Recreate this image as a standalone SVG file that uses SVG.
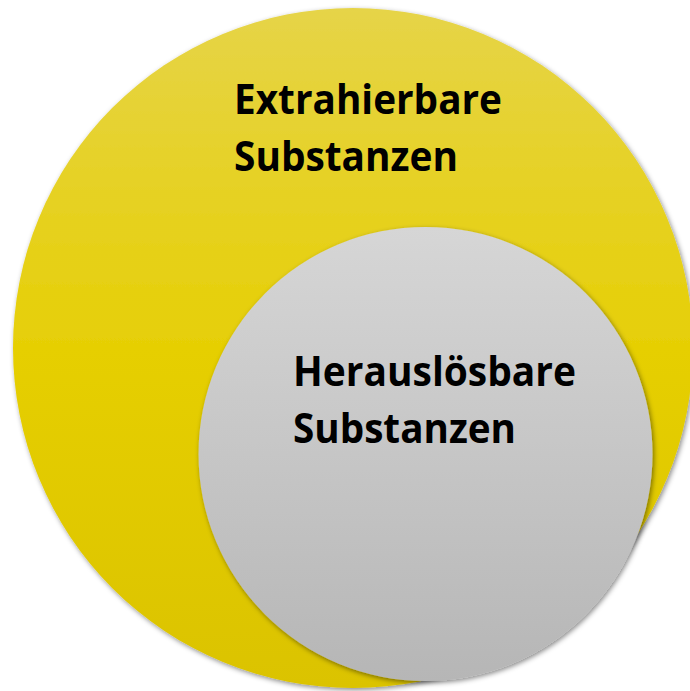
<svg xmlns="http://www.w3.org/2000/svg" width="690" height="691" viewBox="0 0 690 691">
  <style>
    .label { font-family: "Open Sans", "Liberation Sans", sans-serif; font-weight: bold; font-size: 42px; fill: #000; }
  </style>
  <defs>
    <linearGradient id="yellowFill" x1="0" y1="0" x2="0" y2="1">
      <stop offset="0" stop-color="#E6D448"/>
      <stop offset="0.5" stop-color="#E6CF05"/>
      <stop offset="1" stop-color="#DBC300"/>
    </linearGradient>
    <linearGradient id="greyFill" x1="0" y1="0" x2="0" y2="1">
      <stop offset="0" stop-color="#D6D6D6"/>
      <stop offset="1" stop-color="#B6B6B6"/>
    </linearGradient>
    <filter id="softShadow" x="-10%" y="-10%" width="120%" height="120%">
      <feDropShadow dx="1.5" dy="2" stdDeviation="2.5" flood-color="#000" flood-opacity="0.45"/>
    </filter>
  </defs>

  <rect width="690" height="691" fill="#fff"/>

  <!-- outer set -->
  <g id="extrahierbar">
    <circle cx="353" cy="348" r="340" fill="url(#yellowFill)" filter="url(#softShadow)"/>
    <text class="label" x="234" y="114" textLength="268" lengthAdjust="spacingAndGlyphs">Extrahierbare</text>
    <text class="label" x="234" y="171" textLength="224" lengthAdjust="spacingAndGlyphs">Substanzen</text>
  </g>

  <!-- inner subset -->
  <g id="herausloesbar">
    <circle cx="425.5" cy="454" r="227" fill="url(#greyFill)" filter="url(#softShadow)"/>
    <text class="label" x="293" y="386" textLength="283" lengthAdjust="spacingAndGlyphs">Herauslösbare</text>
    <text class="label" x="293" y="443" textLength="223" lengthAdjust="spacingAndGlyphs">Substanzen</text>
  </g>

  <g id="connectors"/>
</svg>
